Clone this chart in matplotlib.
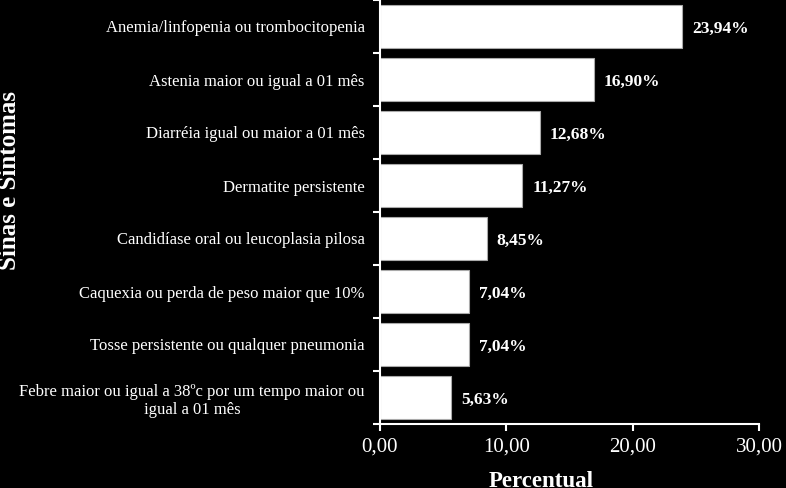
import matplotlib
matplotlib.use("Agg")
import matplotlib.pyplot as plt

categories = [
    "Anemia/linfopenia ou trombocitopenia",
    "Astenia maior ou igual a 01 mês",
    "Diarréia igual ou maior a 01 mês",
    "Dermatite persistente",
    "Candidíase oral ou leucoplasia pilosa",
    "Caquexia ou perda de peso maior que 10%",
    "Tosse persistente ou qualquer pneumonia",
    "Febre maior ou igual a 38ºc por um tempo maior ou\nigual a 01 mês",
]
values = [23.94, 16.90, 12.68, 11.27, 8.45, 7.04, 7.04, 5.63]
value_labels = ["23,94%", "16,90%", "12,68%", "11,27%", "8,45%", "7,04%", "7,04%", "5,63%"]
xticks = [0, 10, 20, 30]
xtick_labels = ["0,00", "10,00", "20,00", "30,00"]

plt.rcParams['font.family'] = ['Liberation Serif', 'DejaVu Serif']

fig = plt.figure(figsize=(7.86, 4.88), dpi=100, facecolor='black')
ax = fig.add_axes([380/786, 1 - 424/488, (759-380)/786, 424/488])
ax.set_facecolor('black')

n = len(categories)
ypos = list(range(n))
ax.barh(ypos, values, height=0.83, color='white', edgecolor='#aaaaaa', linewidth=0.8)
ax.set_ylim(n - 0.5, -0.5)
ax.set_xlim(0, 30)

for y, v, lab in zip(ypos, values, value_labels):
    ax.annotate(lab, (v, y), xytext=(7, -1.5), textcoords='offset points',
                ha='left', va='center', color='white', fontsize=12.5, fontweight='bold')

ax.set_xticks(xticks)
ax.set_xticklabels(xtick_labels, color='white', fontsize=15)
ax.set_yticks([i - 0.5 for i in range(n + 1)], minor=False)
ax.set_yticklabels([])
ax.set_yticks(ypos, minor=True)
ax.set_yticklabels(categories, minor=True, color='white', fontsize=12,
                   ha='right', multialignment='center')
ax.tick_params(axis='y', which='minor', length=0, pad=11)
ax.tick_params(axis='y', which='major', length=5, width=1.5, color='white', direction='out')
ax.tick_params(axis='x', length=5, width=1.5, color='white', direction='out', pad=5)

for s in ['top', 'right']:
    ax.spines[s].set_visible(False)
for s in ['left', 'bottom']:
    ax.spines[s].set_color('white')
    ax.spines[s].set_linewidth(1.5)

fig.text(541/786, 1 - 471/488, "Percentual", color='white', fontsize=16.5,
         fontweight='bold', ha='center', va='top')
fig.text(10/786, 1 - 180/488, "Sinas e Sintomas", rotation=90, color='white',
         fontsize=18, fontweight='bold', ha='center', va='center')

fig.savefig("out.png", dpi=100, facecolor='black')
